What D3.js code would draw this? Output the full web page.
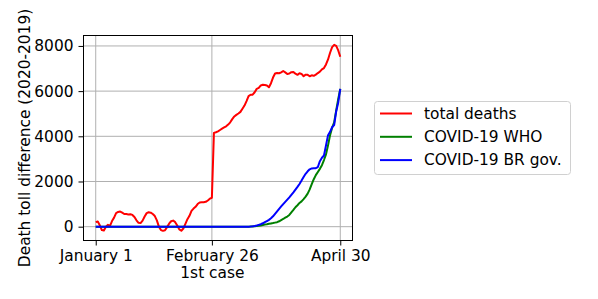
<!DOCTYPE html>
<html>
<head>
<meta charset="utf-8">
<script src="https://cdn.jsdelivr.net/npm/d3@7"></script>
<style>
  body { margin: 0; background: #fff; }
  text { font-family: "DejaVu Sans", sans-serif; }
</style>
</head>
<body>
<div id="chart"></div>
<script>
(function () {

  // Data (day 0 = January 1)

  var totalDeaths = [
    200, 230, 60, -150, -170, 0, 80, 40, 250, 400,
    600, 650, 670, 620, 560, 560, 540, 550, 520, 430,
    280, 170, 160, 270, 450, 600, 640, 620, 560, 470,
    280, 0, -150, -185, -160, -20, 130, 240, 270, 200,
    50, -120, -180, -80, 120, 330, 480, 700, 800, 880,
    1000, 1070, 1080, 1080, 1100, 1160, 1240, 1280, 4150, 4180,
    4220, 4280, 4340, 4390, 4440, 4520, 4620, 4760, 4880, 4950,
    5010, 5080, 5220, 5360, 5560, 5780, 5840, 5840, 5950, 6100,
    6140, 6250, 6280, 6270, 6250, 6170, 6350, 6600, 6780, 6800,
    6790, 6830, 6890, 6830, 6760, 6780, 6840, 6850, 6770, 6720,
    6790, 6760, 6660, 6730, 6720, 6660, 6700, 6680, 6730, 6800,
    6860, 6960, 7020, 7180, 7400, 7700, 7950, 8050, 8000, 7800,
    7520
  ]

  // COVID-19 series are zero until day 75
  var whoTail = [
    0, 5, 10, 20, 30, 40, 55, 75, 95, 110,
    130, 145, 160, 180, 200, 240, 290, 340, 400, 450,
    520, 630, 740, 860, 950, 1050, 1120, 1220, 1330, 1460,
    1650, 1880, 2100, 2280, 2420, 2560, 2720, 2950, 3200, 3600,
    4050, 4380, 4620, 5150, 5650, 6100
  ]

  var brTail = [
    0, 5, 15, 30, 50, 80, 110, 150, 200, 250,
    300, 370, 460, 570, 680, 790, 895, 1000, 1100, 1200,
    1300, 1410, 1520, 1640, 1760, 1890, 2040, 2200, 2340, 2450,
    2540, 2580, 2590, 2590, 2640, 2900, 3050, 3150, 3600, 4050,
    4200, 4400, 4500, 5100, 5500, 6100
  ]

  var zeros = d3.range(75).map(function () { return 0 })
  var covidWho = zeros.concat(whoTail)
  var covidBr = zeros.concat(brTail)

  var xTickDays = [0, 57, 120]
  var xTickLabels = [["January 1"], ["February 26", "1st case"], ["April 30"]]
  var yTicks = [0, 2000, 4000, 6000, 8000]

  var seriesNames = ["total deaths", "COVID-19 WHO", "COVID-19 BR gov."]
  var seriesColors = ["#ff0000", "#008000", "#0000ff"]
  var seriesData = [totalDeaths, covidWho, covidBr]

  // Create the SVG

  var width = 598, height = 299
  var plot = { left: 83.5, right: 352.5, top: 35.5, bottom: 240.5 }
  var fontSize = 15.4

  var svg = d3.select("#chart").append("svg")
      .attr("width", width)
      .attr("height", height)

  // Scales

  var xScale = d3.scaleLinear()
    .domain([-6, 126])
    .range([plot.left, plot.right])

  var yScale = d3.scaleLinear()
    .domain([-612, 8462])
    .range([plot.bottom, plot.top])

  // Grid

  svg.append("g")
    .selectAll("line")
    .data(xTickDays)
    .enter().append("line")
    .attr("x1", function (d) { return xScale(d) })
    .attr("x2", function (d) { return xScale(d) })
    .attr("y1", plot.top)
    .attr("y2", plot.bottom)
    .attr("stroke", "#b0b0b0")
    .attr("stroke-width", 1)

  svg.append("g")
    .selectAll("line")
    .data(yTicks)
    .enter().append("line")
    .attr("x1", plot.left)
    .attr("x2", plot.right)
    .attr("y1", function (d) { return yScale(d) })
    .attr("y2", function (d) { return yScale(d) })
    .attr("stroke", "#b0b0b0")
    .attr("stroke-width", 1)

  // Lines

  var line = d3.line()
    .x(function (d, i) { return xScale(i) })
    .y(function (d) { return yScale(d) })

  svg.append("g")
    .selectAll("path")
    .data(seriesData)
    .enter().append("path")
    .attr("d", line)
    .attr("fill", "none")
    .attr("stroke", function (d, i) { return seriesColors[i] })
    .attr("stroke-width", 2)
    .attr("stroke-linejoin", "round")

  // Axes

  var xAxis = svg.append("g")
    .attr("transform", "translate(0," + plot.bottom + ")")
    .call(d3.axisBottom(xScale).tickValues(xTickDays).tickSize(5).tickFormat(""))

  xAxis.select(".domain").remove()

  xAxis.selectAll(".tick text").remove()

  xAxis.selectAll(".tick")
    .append("text")
    .attr("fill", "#000")
    .attr("text-anchor", "middle")
    .style("font-size", fontSize + "px")
    .selectAll("tspan")
    .data(function (d) { return xTickLabels[xTickDays.indexOf(d)] })
    .enter().append("tspan")
    .attr("x", 0)
    .attr("y", function (d, i) { return 20 + i * 17.5 })
    .text(function (d) { return d })

  var yAxis = svg.append("g")
    .attr("transform", "translate(" + plot.left + ",0)")
    .call(d3.axisLeft(yScale).tickValues(yTicks).tickSize(5).tickPadding(5).tickFormat(d3.format("d")))

  yAxis.select(".domain").remove()
  yAxis.selectAll(".tick text")
    .attr("fill", "#000")
    .style("font-size", fontSize + "px")
    .style("font-family", "DejaVu Sans")

  // Frame

  svg.append("rect")
    .attr("x", plot.left)
    .attr("y", plot.top)
    .attr("width", plot.right - plot.left)
    .attr("height", plot.bottom - plot.top)
    .attr("fill", "none")
    .attr("stroke", "#000")
    .attr("stroke-width", 1)

  // Y label

  svg.append("text")
    .attr("transform", "translate(30," + ((plot.top + plot.bottom) / 2) + ") rotate(-90)")
    .attr("text-anchor", "middle")
    .style("font-size", fontSize + "px")
    .text("Death toll difference (2020-2019)")

  // Legend

  var legend = svg.append("g")

  legend.append("rect")
    .attr("x", 374.5)
    .attr("y", 101.5)
    .attr("width", 196)
    .attr("height", 73)
    .attr("rx", 3)
    .attr("fill", "#fff")
    .attr("stroke", "#d0d0d0")

  var rows = legend.selectAll(".row")
    .data(seriesNames)
    .enter().append("g")
    .attr("class", "row")
    .attr("transform", function (d, i) { return "translate(0," + (113.5 + i * 23.3) + ")" })

  rows.append("line")
    .attr("x1", 380)
    .attr("x2", 412)
    .attr("stroke", function (d, i) { return seriesColors[i] })
    .attr("stroke-width", 2)

  rows.append("text")
    .attr("x", 424)
    .attr("dy", "0.35em")
    .style("font-size", fontSize + "px")
    .text(function (d) { return d })

})()
</script>
</body>
</html>
